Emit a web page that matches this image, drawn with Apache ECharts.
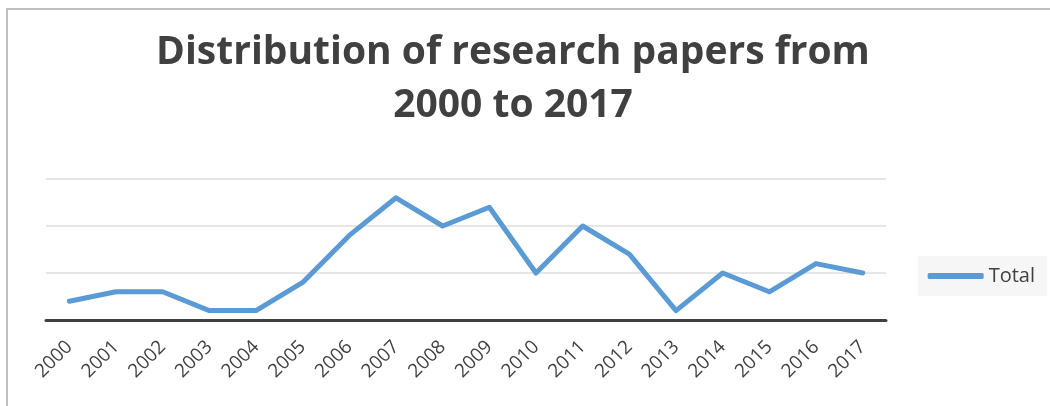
<!DOCTYPE html>
<html><head><meta charset="utf-8">
<script src="https://cdn.jsdelivr.net/npm/echarts@6/dist/echarts.min.js"></script>
<style>html,body{margin:0;padding:0;background:#fff}
#wrap{position:relative;width:1050px;height:406px;overflow:hidden}
#frame{position:absolute;left:6px;top:8px;width:1100px;height:500px;border-top:2px solid #c0c0c0;border-left:2px solid #c0c0c0;pointer-events:none;z-index:2}
#c{position:absolute;left:0;top:0;width:1050px;height:406px}</style>
</head><body><div id="wrap"><div id="c"></div><div id="frame"></div></div>
<script>
var titleText = 'Distribution of research papers from\n2000 to 2017';
var years = ['2000','2001','2002','2003','2004','2005','2006','2007','2008','2009','2010','2011','2012','2013','2014','2015','2016','2017'];
var totals = [2,3,3,1,1,4,9,13,10,12,5,10,7,1,5,3,6,5];
var seriesName = 'Total';

var chart = echarts.init(document.getElementById('c'));
chart.setOption({
  animation: false,
  backgroundColor: '#fff',
  title: {
    text: titleText, left: 508, top: 21, textAlign: 'center',
    textStyle: {fontFamily: 'Open Sans', fontWeight: 'bold', fontSize: 39, color: '#404040', lineHeight: 53}
  },
  legend: {
    data: [seriesName], right: 3, top: 256, orient: 'vertical',
    backgroundColor: '#f6f6f6', padding: [10, 12, 10, 10],
    itemWidth: 56, itemHeight: 6, itemGap: 4,
    icon: 'roundRect',
    textStyle: {fontFamily: 'Open Sans', fontSize: 20, color: '#404040'}
  },
  grid: {left: 46, right: 164, top: 179, bottom: 86, containLabel: false},
  xAxis: {
    type: 'category', data: years, boundaryGap: true,
    axisLine: {lineStyle: {color: '#404040', width: 3}},
    axisTick: {show: false},
    axisLabel: {rotate: 45, fontFamily: 'Open Sans', fontSize: 19, color: '#404040', margin: 24, interval: 0}
  },
  yAxis: {
    type: 'value', min: 0, max: 15, interval: 5,
    axisLabel: {show: false}, axisLine: {show: false}, axisTick: {show: false},
    splitLine: {lineStyle: {color: '#e6e6e6', width: 2}}
  },
  series: [{
    name: seriesName, type: 'line', data: totals,
    symbol: 'none', lineStyle: {color: '#5b9bd5', width: 5, cap: 'round', join: 'round'},
    itemStyle: {color: '#5b9bd5'},
    label: {show: true, position: 'right', color: '#ffffff', fontFamily: 'Open Sans', fontSize: 16, offset: [6, 4]}
  }]
});
</script></body></html>
